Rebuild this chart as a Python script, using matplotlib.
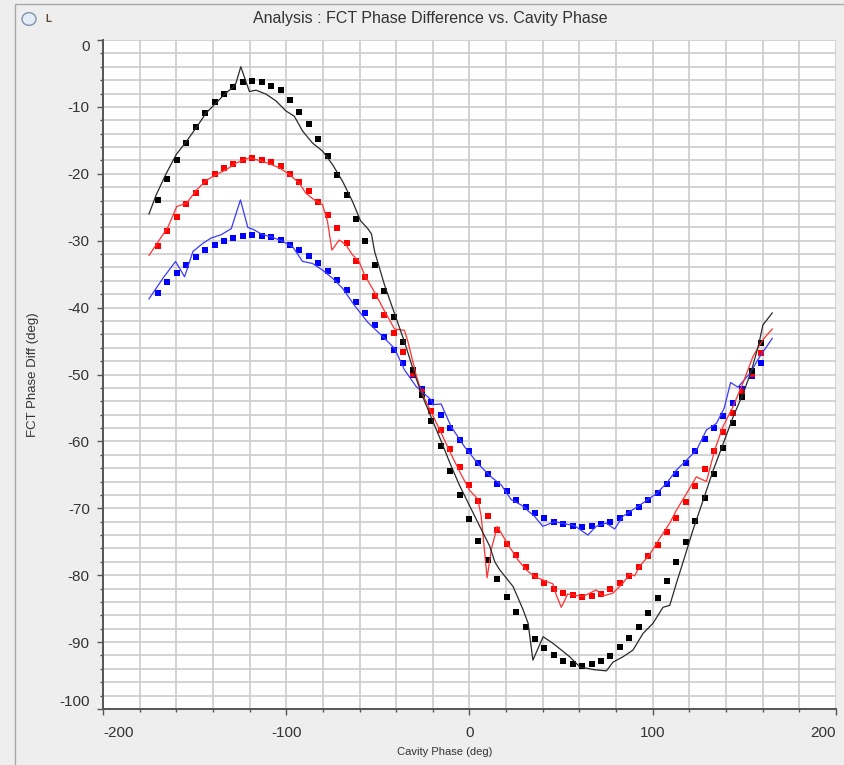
import matplotlib
matplotlib.use("Agg")
import matplotlib.pyplot as plt
from matplotlib.patches import Circle, Rectangle

plt.rcParams["font.family"] = ["Liberation Sans", "DejaVu Sans"]
plt.rcParams["axes.unicode_minus"] = False

# model points (square markers), same phase grid for all three series
phase_model = [-170.0, -164.9, -159.7, -154.6, -149.4, -144.3, -139.1, -134.0, -128.9, -123.7,
               -118.6, -113.4, -108.3, -103.1, -98.0, -92.9, -87.7, -82.6, -77.4, -72.3,
               -67.1, -62.0, -56.9, -51.7, -46.6, -41.4, -36.3, -31.1, -26.0, -20.9,
               -15.7, -10.6, -5.4, -0.3, 4.9, 10.0, 15.1, 20.3, 25.4, 30.6,
               35.7, 40.9, 46.0, 51.1, 56.3, 61.4, 66.6, 71.7, 76.9, 82.0,
               87.1, 92.3, 97.4, 102.6, 107.7, 112.9, 118.0, 123.1, 128.3, 133.4,
               138.6, 143.7, 148.9, 154.0, 159.1]

black_model = [-23.9, -20.8, -17.9, -15.4, -13.0, -10.9, -9.3, -8.0, -7.0, -6.3,
               -6.1, -6.3, -6.9, -7.5, -9.0, -10.7, -12.5, -14.8, -17.3, -20.2,
               -23.2, -26.7, -30.0, -33.7, -37.5, -41.4, -45.2, -49.3, -53.0, -56.9,
               -60.7, -64.4, -68.0, -71.6, -74.9, -77.8, -80.6, -83.2, -85.5, -87.7,
               -89.5, -90.9, -92.0, -92.8, -93.3, -93.5, -93.3, -92.8, -92.1, -90.8,
               -89.4, -87.8, -85.7, -83.4, -80.9, -78.0, -75.0, -71.9, -68.4, -64.8,
               -61.0, -57.3, -53.3, -49.5, -45.3]

red_model = [-30.8, -28.6, -26.5, -24.5, -22.8, -21.3, -20.1, -19.2, -18.5, -17.9,
             -17.7, -17.9, -18.3, -18.8, -20.0, -21.2, -22.6, -24.2, -26.2, -28.1,
             -30.4, -33.1, -35.4, -38.2, -41.1, -43.8, -46.7, -49.9, -52.6, -55.4,
             -58.3, -61.2, -63.9, -66.5, -68.9, -71.2, -73.2, -75.3, -77.0, -78.7,
             -80.1, -81.1, -82.1, -82.6, -83.0, -83.2, -83.1, -82.8, -82.1, -81.1,
             -80.1, -78.8, -77.2, -75.5, -73.5, -71.4, -69.0, -66.7, -64.1, -61.4,
             -58.6, -55.7, -52.6, -49.9, -46.8]

blue_model = [-37.8, -36.2, -34.9, -33.7, -32.4, -31.4, -30.7, -30.1, -29.6, -29.3,
              -29.2, -29.3, -29.5, -29.9, -30.6, -31.4, -32.3, -33.3, -34.6, -35.9,
              -37.4, -39.1, -40.8, -42.6, -44.4, -46.4, -48.3, -50.1, -52.1, -54.1,
              -56.0, -58.0, -59.8, -61.5, -63.2, -64.8, -66.3, -67.4, -68.7, -69.8,
              -70.7, -71.4, -72.0, -72.4, -72.7, -72.8, -72.6, -72.4, -72.1, -71.4,
              -70.7, -69.8, -68.7, -67.7, -66.3, -64.8, -63.2, -61.5, -59.7, -58.0,
              -56.2, -54.2, -52.1, -50.2, -48.3]

# measured curves (thin lines)
black_meas_x = [-174.9, -170.9, -165.4, -160.0, -154.6, -149.1, -143.7, -138.2, -133.7, -129.2,
                -127.4, -124.8, -120.1, -116.5, -111.0, -105.6, -100.2, -95.6, -91.1, -85.7,
                -80.2, -74.8, -69.3, -63.9, -59.5, -55.5, -53.5, -51.8, -46.4, -40.9,
                -35.5, -30.0, -26.0, -20.9, -15.7, -10.6, -5.4, 0.2, 5.6, 11.1,
                13.8, 16.5, 23.8, 29.3, 32.0, 34.6, 40.2, 45.6, 50.2, 54.7,
                60.2, 67.4, 74.7, 78.3, 83.7, 89.2, 94.7, 100.1, 105.6, 109.3,
                112.9, 117.5, 122.0, 127.5, 133.0, 138.5, 143.9, 149.4, 154.0, 158.0,
                160.1, 165.2]
black_meas_y = [-26.0, -23.1, -19.9, -17.1, -15.2, -13.1, -10.9, -9.4, -8.1, -7.1,
                -6.4, -4.0, -7.7, -7.5, -8.1, -9.1, -10.6, -11.4, -13.6, -15.4,
                -16.6, -18.6, -21.1, -24.1, -27.0, -28.2, -29.0, -31.6, -36.6, -40.9,
                -45.1, -49.9, -53.0, -56.4, -59.8, -63.3, -66.6, -69.7, -72.7, -75.7,
                -78.0, -79.2, -81.7, -85.2, -87.2, -92.7, -89.2, -90.2, -91.2, -92.2,
                -93.7, -94.1, -94.3, -93.0, -92.2, -91.2, -88.7, -87.2, -84.8, -84.5,
                -81.2, -77.2, -73.2, -68.8, -64.3, -60.3, -56.3, -52.8, -49.3, -45.3,
                -42.6, -40.8]

red_meas_x = [-174.9, -164.4, -159.8, -154.4, -148.9, -143.7, -138.2, -132.8, -127.4, -120.1,
              -114.7, -109.2, -103.8, -98.3, -92.9, -89.3, -83.8, -80.2, -77.5, -75.1,
              -71.1, -67.5, -63.9, -60.3, -57.3, -51.8, -46.4, -40.9, -35.5, -33.6,
              -29.1, -26.0, -20.9, -15.7, -10.6, -5.4, 0.0, 4.5, 6.4, 9.6,
              12.0, 15.2, 20.5, 26.4, 30.9, 35.5, 40.9, 45.5, 47.4, 50.1,
              53.6, 57.3, 61.8, 65.5, 69.1, 72.8, 78.2, 83.7, 87.4, 90.1,
              92.8, 98.3, 103.8, 109.3, 112.9, 118.4, 123.8, 129.3, 133.8, 138.3,
              143.8, 149.2, 154.7, 160.1, 165.2]
red_meas_y = [-32.2, -27.9, -24.9, -24.4, -22.4, -21.0, -20.1, -19.4, -18.4, -17.6,
              -18.0, -18.5, -19.1, -20.1, -21.4, -22.9, -24.1, -24.6, -27.1, -31.4,
              -29.9, -30.6, -32.1, -33.1, -35.1, -37.7, -40.5, -43.2, -43.4, -45.1,
              -50.1, -52.8, -55.6, -58.6, -61.6, -64.5, -67.3, -68.6, -71.2, -80.4,
              -76.0, -72.7, -75.2, -77.7, -79.2, -80.2, -80.8, -81.3, -83.0, -84.8,
              -82.8, -83.0, -83.2, -82.7, -82.2, -83.1, -82.7, -81.2, -79.8, -80.1,
              -78.7, -76.9, -74.5, -72.2, -70.3, -67.8, -65.3, -66.0, -61.3, -57.8,
              -54.8, -51.3, -47.3, -44.8, -43.2]

blue_meas_x = [-174.9, -167.0, -160.4, -155.5, -150.9, -145.5, -141.0, -135.5, -130.0, -125.0,
               -121.0, -117.4, -112.9, -107.4, -102.0, -96.5, -91.1, -85.7, -80.2, -74.8,
               -69.3, -62.7, -55.5, -48.2, -40.9, -35.5, -29.1, -20.9, -20.0, -15.5,
               -10.0, -2.7, 4.5, 11.8, 17.3, 22.7, 28.2, 35.5, 40.0, 46.4,
               51.8, 57.3, 64.6, 69.1, 74.6, 79.2, 83.7, 89.2, 94.7, 102.0,
               107.4, 112.9, 118.4, 123.9, 129.3, 134.8, 139.0, 142.5, 146.5, 153.1,
               158.0, 165.2]
blue_meas_y = [-38.7, -35.5, -33.1, -35.4, -31.6, -30.4, -29.6, -29.1, -28.2, -23.9,
               -28.0, -28.4, -29.1, -29.5, -30.1, -30.9, -33.1, -33.4, -34.4, -35.6,
               -37.1, -39.7, -42.2, -44.1, -46.1, -49.3, -51.8, -53.8, -54.5, -54.4,
               -57.8, -60.8, -63.3, -65.3, -66.5, -68.7, -69.5, -71.2, -72.7, -72.0,
               -72.3, -72.6, -74.0, -72.7, -72.2, -73.1, -71.2, -70.2, -69.2, -67.8,
               -66.3, -64.3, -62.8, -61.3, -58.3, -57.3, -55.0, -51.2, -51.9, -49.8,
               -47.5, -44.6]

x_major = [-200, -100, 0, 100, 200]
x_minor = list(range(-200, 201, 20))
y_major = list(range(-100, 1, 10))
y_minor = list(range(-100, 1, 2))

W, H = 845, 765
fig = plt.figure(figsize=(W / 100, H / 100), dpi=100, facecolor="#eeeeee")

# panel frame and the little radio button in the corner
fig.patches.append(Rectangle((15 / W, -0.01), 1.0, 1 - 4 / H + 0.01, transform=fig.transFigure,
                             fill=False, edgecolor="#a8a8a8", linewidth=1.0))
fig.patches.append(Circle((29 / W, 1 - 19 / H), 7 / W, transform=fig.transFigure,
                          facecolor="#e4edf7", edgecolor="#7f93ad", linewidth=1.0))
fig.text(45 / W, 1 - 19 / H, "L", fontsize=7, fontweight="bold", color="#5a4632",
         ha="left", va="center")
fig.text(430 / W, 1 - 18 / H, "Analysis : FCT Phase Difference vs. Cavity Phase",
         fontsize=11.5, color="#333333", ha="center", va="center")

ax = fig.add_axes([103 / W, 1 - 709 / H, (836 - 103) / W, (709 - 40) / H])
ax.set_facecolor("white")

ax.plot(phase_model, blue_model, "s", color="#0000ff", markersize=4.3, markeredgewidth=0, zorder=3)
ax.plot(phase_model, red_model, "s", color="#ff0000", markersize=4.3, markeredgewidth=0, zorder=3)
ax.plot(phase_model, black_model, "s", color="#000000", markersize=4.3, markeredgewidth=0, zorder=3)
ax.plot(blue_meas_x, blue_meas_y, color="#3a3aff", linewidth=0.9, zorder=4)
ax.plot(red_meas_x, red_meas_y, color="#ff3030", linewidth=0.9, zorder=4)
ax.plot(black_meas_x, black_meas_y, color="#2a2a2a", linewidth=0.9, zorder=4)

ax.set_xlim(-200, 200)
ax.set_ylim(-100, 0)
ax.set_xticks(x_major)
ax.set_xticks(x_minor, minor=True)
ax.set_yticks(y_major)
ax.set_yticks(y_minor, minor=True)
ax.grid(which="both", color="#cccccc", linewidth=1.2, zorder=0)
ax.set_axisbelow(True)

for side in ["top", "right"]:
    ax.spines[side].set_visible(False)
for side in ["left", "bottom"]:
    ax.spines[side].set_color("#555555")
    ax.spines[side].set_linewidth(1.4)

ax.tick_params(which="major", direction="out", length=4.5, width=1.0, color="#555555",
               labelsize=11, labelcolor="#333333", pad=5)
ax.tick_params(which="minor", direction="out", length=2.2, width=1.0, color="#555555")
ax.tick_params(axis="x", which="major", pad=8)

# edge labels are kept inside the plot span, as in the original widget
xlabels = ax.get_xticklabels()
xlabels[0].set_horizontalalignment("left")
xlabels[-1].set_horizontalalignment("right")
ylabels = ax.get_yticklabels()
ylabels[0].set_verticalalignment("bottom")
ylabels[-1].set_verticalalignment("top")

fig.text(445 / W, 1 - 752 / H, "Cavity Phase (deg)", fontsize=8, color="#333333",
         ha="center", va="center")
fig.text(33 / W, 1 - 375 / H, "FCT Phase Diff (deg)", fontsize=9.5, color="#333333",
         ha="center", va="center", rotation=90)

fig.savefig("out.png", dpi=100, facecolor=fig.get_facecolor())
